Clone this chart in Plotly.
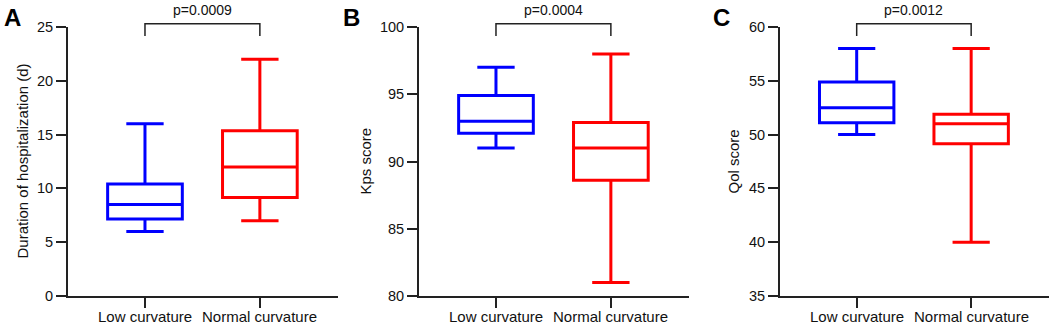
import plotly.graph_objects as go

categories = ["Low curvature", "Normal curvature"]

# Panel A: Duration of hospitalization (d)
a_low = dict(lower=6.0, q1=7.15, median=8.5, q3=10.4, upper=16.0)
a_norm = dict(lower=7.0, q1=9.15, median=12.0, q3=15.35, upper=22.0)
# Panel B: Kps score
b_low = dict(lower=91.0, q1=92.1, median=93.0, q3=94.9, upper=97.0)
b_norm = dict(lower=81.0, q1=88.6, median=91.0, q3=92.9, upper=98.0)
# Panel C: Qol score
c_low = dict(lower=50.0, q1=51.1, median=52.5, q3=54.9, upper=58.0)
c_norm = dict(lower=40.0, q1=49.15, median=51.0, q3=51.9, upper=58.0)

panels = [
    dict(letter="A", low=a_low, norm=a_norm, yrange=[0, 25], dtick=5,
         title="Duration of hospitalization (d)", p="p=0.0009",
         dom=(68, 338), letter_x=12, title_x=22),
    dict(letter="B", low=b_low, norm=b_norm, yrange=[80, 100], dtick=5,
         title="Kps score", p="p=0.0004",
         dom=(419, 689), letter_x=351, title_x=365),
    dict(letter="C", low=c_low, norm=c_norm, yrange=[35, 60], dtick=5,
         title="Qol score", p="p=0.0012",
         dom=(780, 1049), letter_x=721, title_x=733),
]

W, H = 1052, 325
mt, mb = 27, 29
PH = H - mt - mb
BLUE = "#0000ff"
RED = "#ff0000"
AX = "#222222"
FONT = "Arial, Liberation Sans, sans-serif"

fig = go.Figure()
shapes = []
annotations = []

for i, pn in enumerate(panels):
    idx = "" if i == 0 else str(i + 1)
    xa, ya = "x" + idx, "y" + idx
    for xi, (d, col) in enumerate([(pn["low"], BLUE), (pn["norm"], RED)]):
        fig.add_trace(go.Box(
            x=[xi], q1=[d["q1"]], median=[d["median"]], q3=[d["q3"]],
            lowerfence=[d["lower"]], upperfence=[d["upper"]],
            width=0.65, whiskerwidth=0.5,
            line=dict(color=col, width=3), fillcolor="rgba(255,255,255,0)",
            boxpoints=False, showlegend=False, hoverinfo="skip",
            xaxis=xa, yaxis=ya,
        ))
    x0, x1 = pn["dom"]
    fig.layout["xaxis" + idx] = dict(
        domain=[x0 / W, x1 / W], range=[-0.67, 1.68],
        tickvals=[0, 1], showticklabels=False,
        showline=True, linecolor=AX, linewidth=2,
        ticks="outside", ticklen=10, tickwidth=2, tickcolor=AX,
        showgrid=False, zeroline=False,
        anchor=ya, fixedrange=True, automargin=False,
    )
    fig.layout["yaxis" + idx] = dict(
        domain=[0, 1], range=pn["yrange"], dtick=pn["dtick"],
        tick0=pn["yrange"][0],
        showline=True, linecolor=AX, linewidth=2,
        ticks="outside", ticklen=10, tickwidth=2, tickcolor=AX,
        showgrid=False, zeroline=False,
        tickfont=dict(family=FONT, size=14.5, color="#111111"),
        anchor=xa, fixedrange=True, automargin=False,
    )
    # category labels
    for xi, cat in enumerate(categories):
        annotations.append(dict(x=xi, xref=xa, y=-(316.5 - (H - mb)) / PH, yref="paper",
                                text=cat, showarrow=False, xanchor="center",
                                yanchor="middle",
                                font=dict(family=FONT, size=15, color="#111111")))
    # bracket
    yb = 1.012
    ye = 0.967
    shapes.append(dict(type="path", xref=xa, yref="paper",
                       path=f"M 0,{ye} L 0,{yb} L 1,{yb} L 1,{ye}",
                       line=dict(color=AX, width=1.5)))
    annotations.append(dict(x=0.5, xref=xa, y=1.025, yref="paper",
                            text=pn["p"], showarrow=False, yanchor="bottom",
                            font=dict(family=FONT, size=14, color="#111111")))
    # panel letter
    annotations.append(dict(x=pn["letter_x"] / W, xref="paper", y=(H - mb - 17) / PH,
                            yref="paper", text="<b>" + pn["letter"] + "</b>",
                            showarrow=False, xanchor="center", yanchor="middle",
                            font=dict(family=FONT, size=24, color="#000000")))
    # y-axis title
    annotations.append(dict(x=pn["title_x"] / W, xref="paper", y=0.5, yref="paper",
                            text=pn["title"], textangle=-90, showarrow=False,
                            xanchor="center", yanchor="middle",
                            font=dict(family=FONT, size=15, color="#111111")))

fig.update_layout(
    width=W, height=H,
    margin=dict(l=0, r=0, t=mt, b=mb, autoexpand=False),
    paper_bgcolor="white", plot_bgcolor="white",
    shapes=shapes, annotations=annotations,
    boxmode="overlay",
)

fig.write_html("out.html", config={"displayModeBar": False},
               post_script="document.body.style.margin='0';")
